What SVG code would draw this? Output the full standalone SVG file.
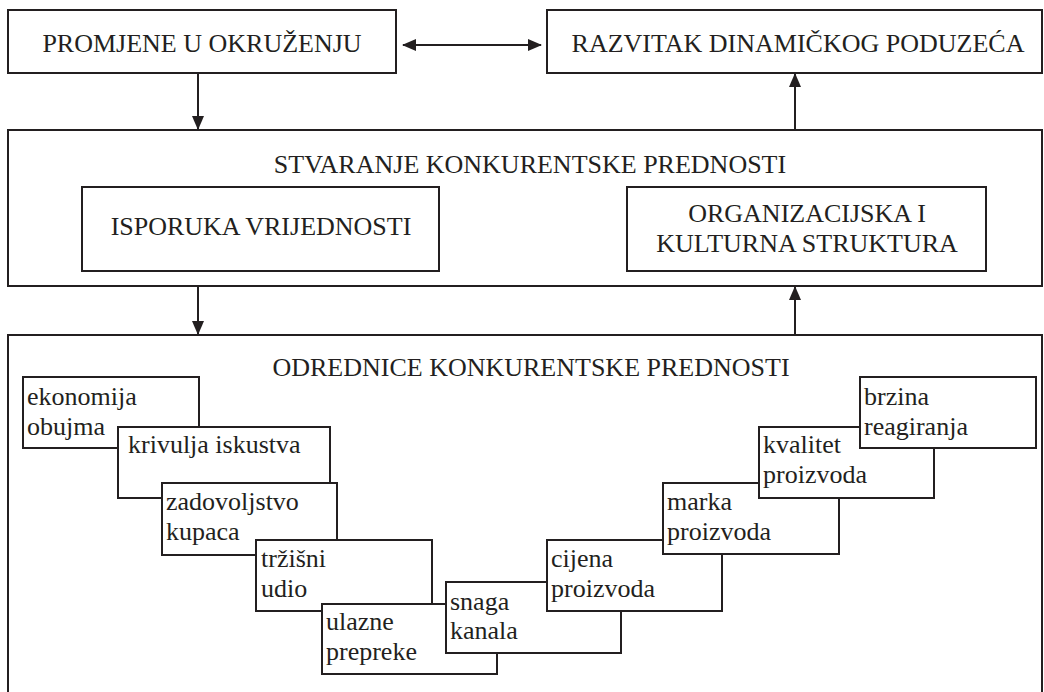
<svg xmlns="http://www.w3.org/2000/svg" width="1044" height="692" viewBox="0 0 1044 692" font-family="'Liberation Serif', 'DejaVu Serif', 'Times New Roman', serif">
<defs>
<style>
.box{fill:#fff;stroke:#231f20;stroke-width:2}
.t{font-family:'Liberation Serif','DejaVu Serif',serif;font-size:26px;fill:#231f20}
.c{text-anchor:middle}
.con{stroke:#231f20;stroke-width:2;fill:none}
</style>
<marker id="ah" viewBox="0 0 14 12" refX="13" refY="6" markerWidth="14" markerHeight="12" markerUnits="userSpaceOnUse" orient="auto-start-reverse">
<path d="M0,0 L14,6 L0,12 Z" fill="#231f20"/>
</marker>
</defs>
<rect width="1044" height="692" fill="#fff"/>

<g id="promjene">
<rect class="box" x="8" y="10" width="388" height="63"/>
<text class="t c" x="202" y="52">PROMJENE U OKRUŽENJU</text>
</g>
<g id="razvitak">
<rect class="box" x="547" y="10" width="495" height="63"/>
<text class="t c" x="798" y="52">RAZVITAK DINAMIČKOG PODUZEĆA</text>
</g>

<g id="stvaranje">
<rect class="box" x="8" y="130" width="1034" height="156"/>
<text class="t c" x="530" y="173">STVARANJE KONKURENTSKE PREDNOSTI</text>
</g>
<g id="isporuka">
<rect class="box" x="82" y="187" width="357" height="84"/>
<text class="t c" x="261" y="235">ISPORUKA VRIJEDNOSTI</text>
</g>
<g id="organizacijska">
<rect class="box" x="627" y="187" width="359" height="84"/>
<text class="t c" x="807" y="222">ORGANIZACIJSKA I</text>
<text class="t c" x="807" y="252">KULTURNA STRUKTURA</text>
</g>

<g id="odrednice">
<rect class="box" x="8" y="335" width="1034" height="380"/>
<text class="t c" x="531" y="376">ODREDNICE KONKURENTSKE PREDNOSTI</text>
</g>

<g id="ekonomija">
<rect class="box" x="23" y="377" width="176" height="71"/>
<text class="t" x="27" y="405">ekonomija</text>
<text class="t" x="27" y="435">obujma</text>
</g>
<g id="krivulja">
<rect class="box" x="118" y="427" width="212" height="71"/>
<text class="t" x="128" y="453">krivulja iskustva</text>
</g>
<g id="zadovoljstvo">
<rect class="box" x="162" y="483" width="175" height="72"/>
<text class="t" x="166" y="510">zadovoljstvo</text>
<text class="t" x="166" y="540">kupaca</text>
</g>
<g id="trzisni">
<rect class="box" x="256" y="540" width="176" height="71"/>
<text class="t" x="261" y="567">tržišni</text>
<text class="t" x="261" y="597">udio</text>
</g>
<g id="ulazne">
<rect class="box" x="322" y="604" width="175" height="70"/>
<text class="t" x="326" y="630">ulazne</text>
<text class="t" x="326" y="660">prepreke</text>
</g>
<g id="snaga">
<rect class="box" x="446" y="582" width="175" height="71"/>
<text class="t" x="450" y="610">snaga</text>
<text class="t" x="450" y="639">kanala</text>
</g>
<g id="cijena">
<rect class="box" x="547" y="540" width="175" height="71"/>
<text class="t" x="551" y="567">cijena</text>
<text class="t" x="551" y="597">proizvoda</text>
</g>
<g id="marka">
<rect class="box" x="663" y="483" width="176" height="71"/>
<text class="t" x="667" y="510">marka</text>
<text class="t" x="667" y="540">proizvoda</text>
</g>
<g id="kvalitet">
<rect class="box" x="759" y="427" width="175" height="71"/>
<text class="t" x="763" y="453">kvalitet</text>
<text class="t" x="763" y="483">proizvoda</text>
</g>
<g id="brzina">
<rect class="box" x="860" y="377" width="176" height="71"/>
<text class="t" x="864" y="405">brzina</text>
<text class="t" x="864" y="435">reagiranja</text>
</g>

<g id="connectors">
<line class="con" x1="403" y1="45" x2="541" y2="45" marker-start="url(#ah)" marker-end="url(#ah)"/>
<line class="con" x1="198" y1="73" x2="198" y2="129" marker-end="url(#ah)"/>
<line class="con" x1="795" y1="130" x2="795" y2="74" marker-end="url(#ah)"/>
<line class="con" x1="198" y1="286" x2="198" y2="334" marker-end="url(#ah)"/>
<line class="con" x1="795" y1="335" x2="795" y2="287" marker-end="url(#ah)"/>
</g>
</svg>
